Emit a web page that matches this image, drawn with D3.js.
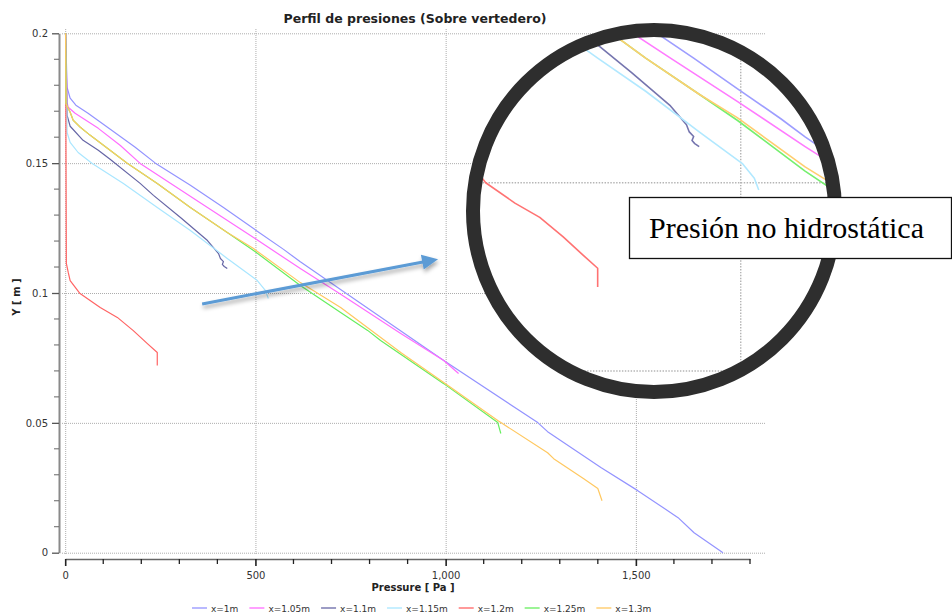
<!DOCTYPE html>
<html>
<head>
<meta charset="utf-8">
<script src="https://cdn.jsdelivr.net/npm/d3@7"></script>
<style>
  html, body { margin: 0; padding: 0; background: #fff; }
  svg { display: block; }
</style>
</head>
<body>
<svg id="chart" width="952" height="613"></svg>
<script>
// Pressure profiles over the weir: one pressure / height pair of arrays per section
const seriesNames  = ["x=1m", "x=1.05m", "x=1.1m", "x=1.15m", "x=1.2m", "x=1.25m", "x=1.3m"];
const seriesColors = ["#9393ff", "#ff6cff", "#6666a6", "#a9e6ff", "#ff6464", "#66ee5e", "#ffc860"];

const p_x100 = [1, 3, 5, 13, 28, 60, 123, 184, 237, 329, 416, 495, 574, 618, 739, 995, 1242, 1268, 1408, 1505, 1611, 1653, 1729];
const y_x100 = [0.2, 0.1896, 0.1792, 0.1750, 0.1723, 0.1692, 0.1626, 0.1561, 0.1500, 0.1415, 0.1329, 0.1248, 0.1168, 0.1120, 0.0998, 0.0740, 0.0501, 0.0466, 0.0328, 0.0239, 0.0135, 0.0077, 0];

const p_x105 = [1, 5, 8, 26, 87, 145, 197, 374, 495, 618, 721, 882, 995, 1034];
const y_x105 = [0.2, 0.1734, 0.1715, 0.1692, 0.1634, 0.1568, 0.1499, 0.1329, 0.1214, 0.1094, 0.0998, 0.0844, 0.0740, 0.0690];

const p_x110 = [1, 5, 13, 47, 87, 118, 197, 232, 303, 374, 403, 408, 416, 413, 418, 426];
const y_x110 = [0.2, 0.1684, 0.1642, 0.1588, 0.1550, 0.1515, 0.1422, 0.1376, 0.1291, 0.1202, 0.1152, 0.1133, 0.1121, 0.1110, 0.1102, 0.1094];

const p_x115 = [1, 5, 13, 34, 71, 153, 242, 329, 426, 505, 526, 534];
const y_x115 = [0.2, 0.1618, 0.1580, 0.1541, 0.1499, 0.1422, 0.1329, 0.1241, 0.1133, 0.1048, 0.1010, 0.0979];

const p_x120 = [1, 3, 8, 13, 39, 92, 137, 179, 216, 242, 242];
const y_x120 = [0.2, 0.1114, 0.1079, 0.1048, 0.0998, 0.0944, 0.0906, 0.0855, 0.0805, 0.0771, 0.0721];

const p_x125 = [1, 2, 13, 21, 39, 65, 163, 242, 329, 426, 495, 618, 724, 795, 829, 995, 1137, 1145];
const y_x125 = [0.2, 0.1730, 0.1696, 0.1665, 0.1639, 0.1608, 0.1500, 0.1422, 0.1329, 0.1233, 0.1164, 0.1029, 0.0925, 0.0856, 0.0817, 0.0651, 0.0501, 0.0459];

const p_x130 = [1, 2, 13, 21, 39, 65, 163, 242, 329, 426, 495, 618, 724, 882, 995, 1137, 1268, 1284, 1363, 1400, 1411];
const y_x130 = [0.2, 0.1730, 0.1696, 0.1665, 0.1639, 0.1608, 0.1500, 0.1422, 0.1329, 0.1233, 0.1171, 0.1040, 0.0944, 0.0771, 0.0655, 0.0509, 0.0385, 0.0362, 0.0285, 0.0247, 0.0200];

const pressureSets = [p_x100, p_x105, p_x110, p_x115, p_x120, p_x125, p_x130];
const heightSets   = [y_x100, y_x105, y_x110, y_x115, y_x120, y_x125, y_x130];

const xTicks = [0, 500, 1000, 1500];
const xTickLabels = ["0", "500", "1,000", "1,500"];
const yTicks = [0, 0.05, 0.1, 0.15, 0.2];
const yTickLabels = ["0", "0.05", "0.1", "0.15", "0.2"];

const series = seriesNames.map((name, i) => ({
  name,
  color: seriesColors[i],
  points: d3.zip(pressureSets[i], heightSets[i])
}));

const svg = d3.select("#chart");
const font = "'DejaVu Sans', Verdana, sans-serif";

const x = d3.scaleLinear().domain([0, 1800]).range([65.2, 750]);
const y = d3.scaleLinear().domain([0, 0.2]).range([552.7, 33.3]);

const line = d3.line().x(d => x(d[0])).y(d => y(d[1]));

const defs = svg.append("defs");

// Plot body: dotted grid + pressure curves (reused inside the lens)
function drawPlot(g, width) {
  const grid = g.append("g").attr("stroke", "#adadad").attr("stroke-width", 1)
    .attr("stroke-dasharray", "1,1").attr("fill", "none");
  grid.selectAll("line.v").data(xTicks).join("line").attr("class", "v")
    .attr("x1", d => x(d) + 0.5).attr("x2", d => x(d) + 0.5)
    .attr("y1", 29).attr("y2", 555);
  grid.selectAll("line.h").data(yTicks).join("line").attr("class", "h")
    .attr("x1", 62).attr("x2", 766)
    .attr("y1", d => y(d) + 0.5).attr("y2", d => y(d) + 0.5);

  g.append("g").selectAll("path").data(series).join("path")
    .attr("fill", "none")
    .attr("stroke", d => d.color)
    .attr("stroke-width", width)
    .attr("stroke-linejoin", "round")
    .attr("d", d => line(d.points));
}

drawPlot(svg.append("g"), 1.2);

// Axes
const yAxis = d3.axisLeft(y).tickValues(yTicks).tickFormat((d, i) => yTickLabels[i])
  .tickSize(7).tickSizeOuter(0).tickPadding(4);
const gy = svg.append("g").attr("transform", "translate(59,0)").call(yAxis);
gy.select(".domain").attr("stroke", "#8a8a8a").attr("stroke-width", 2);
gy.selectAll(".tick line").attr("stroke", "#555").attr("stroke-width", 1.3);
gy.selectAll(".tick text").attr("font-family", font).attr("font-size", 10).attr("fill", "#333");
gy.append("g").selectAll("line")
  .data(d3.range(1, 20).filter(k => k % 5 !== 0).map(k => k / 100))
  .join("line")
  .attr("x1", -5).attr("x2", 0)
  .attr("y1", d => y(d)).attr("y2", d => y(d))
  .attr("stroke", "#666").attr("stroke-width", 1);

const xAxis = d3.axisBottom(x).tickValues(xTicks).tickFormat((d, i) => xTickLabels[i])
  .tickSize(7).tickSizeOuter(0).tickPadding(6);
const gx = svg.append("g").attr("transform", "translate(0,559)").call(xAxis);
gx.select(".domain").attr("stroke", "#666").attr("stroke-width", 1.6);
gx.selectAll(".tick line").attr("stroke", "#222").attr("stroke-width", 1.6);
gx.selectAll(".tick text").attr("font-family", font).attr("font-size", 10).attr("fill", "#333");
gx.append("g").selectAll("line")
  .data(d3.range(1, 19).filter(k => k % 5 !== 0).map(k => k * 100))
  .join("line")
  .attr("x1", d => x(d)).attr("x2", d => x(d))
  .attr("y1", 0).attr("y2", 5)
  .attr("stroke", "#222").attr("stroke-width", 1.3);

// Titles
svg.append("text").attr("x", 415).attr("y", 23).attr("text-anchor", "middle")
  .attr("font-family", font).attr("font-weight", "bold").attr("font-size", 12.5).attr("fill", "#222")
  .text("Perfil de presiones (Sobre vertedero)");
svg.append("text").attr("x", 413).attr("y", 591).attr("text-anchor", "middle")
  .attr("font-family", font).attr("font-weight", "bold").attr("font-size", 10).attr("fill", "#222")
  .text("Pressure [ Pa ]");
svg.append("text").attr("transform", "translate(20,297) rotate(-90)").attr("text-anchor", "middle")
  .attr("font-family", font).attr("font-weight", "bold").attr("font-size", 10).attr("fill", "#222")
  .text("Y [ m ]");

// Legend along the bottom edge
const legend = svg.append("g").attr("font-family", font).attr("font-size", 9).attr("fill", "#333");
let lx = 192;
series.forEach(s => {
  const item = legend.append("g").attr("transform", `translate(${lx},0)`);
  item.append("line").attr("x1", 0).attr("x2", 15).attr("y1", 608).attr("y2", 608)
    .attr("stroke", s.color).attr("stroke-width", 1.3);
  const t = item.append("text").attr("x", 19).attr("y", 612).text(s.name);
  lx += 19 + t.node().getComputedTextLength() + 11;
});

// Magnifying lens over the lower-right of the curves
const lensCx = 654, lensCy = 211, lensR = 181;
const lensTarget = [740, 182];
const lensFocus = [500, 0.1];
const lensZoom = 1.45;

defs.append("clipPath").attr("id", "lens")
  .append("circle").attr("cx", lensCx).attr("cy", lensCy).attr("r", lensR);
const soft = defs.append("filter").attr("id", "soft");
soft.append("feGaussianBlur").attr("stdDeviation", 0.45);

svg.append("circle").attr("cx", lensCx).attr("cy", lensCy).attr("r", lensR).attr("fill", "#fff");
const lensBody = svg.append("g").attr("clip-path", "url(#lens)")
  .append("g")
  .attr("transform", `translate(${lensTarget[0]},${lensTarget[1]}) scale(${lensZoom}) translate(${-x(lensFocus[0])},${-y(lensFocus[1])})`)
  .attr("filter", "url(#soft)")
  .attr("opacity", 0.9);
drawPlot(lensBody, 1.1);
svg.append("circle").attr("cx", lensCx).attr("cy", lensCy).attr("r", lensR)
  .attr("fill", "none").attr("stroke", "#2e2e2e").attr("stroke-width", 14);

// Annotation box
svg.append("rect").attr("x", 629.5).attr("y", 197.5).attr("width", 322).attr("height", 61)
  .attr("fill", "#fff").attr("stroke", "#111").attr("stroke-width", 1.3);
svg.append("text").attr("x", 649).attr("y", 238)
  .attr("font-family", "'Liberation Serif', 'Times New Roman', serif").attr("font-size", 30).attr("fill", "#000")
  .text("Presión no hidrostática");

// Arrow pointing into the lens
const shadow = defs.append("filter").attr("id", "arrowShadow")
  .attr("x", "-20%").attr("y", "-50%").attr("width", "140%").attr("height", "200%");
shadow.append("feDropShadow").attr("dx", 1).attr("dy", 3).attr("stdDeviation", 2)
  .attr("flood-color", "#000").attr("flood-opacity", 0.35);

const arrowFrom = [360, 0.0958], arrowTo = [980, 0.1130];
const ax0 = x(arrowFrom[0]), ay0 = y(arrowFrom[1]);
const ax1 = x(arrowTo[0]), ay1 = y(arrowTo[1]);
const len = Math.hypot(ax1 - ax0, ay1 - ay0);
const ux = (ax1 - ax0) / len, uy = (ay1 - ay0) / len;
const headL = 16, headW = 7.5;
const bx = ax1 - ux * headL, by = ay1 - uy * headL;
const arrow = svg.append("g").attr("filter", "url(#arrowShadow)");
arrow.append("line").attr("x1", ax0).attr("y1", ay0).attr("x2", bx + ux * 2).attr("y2", by + uy * 2)
  .attr("stroke", "#5b9bd5").attr("stroke-width", 3);
arrow.append("polygon")
  .attr("points", [[ax1, ay1], [bx - uy * headW, by + ux * headW], [bx + uy * headW, by - ux * headW]].map(p => p.join(",")).join(" "))
  .attr("fill", "#5b9bd5");
</script>
</body>
</html>
